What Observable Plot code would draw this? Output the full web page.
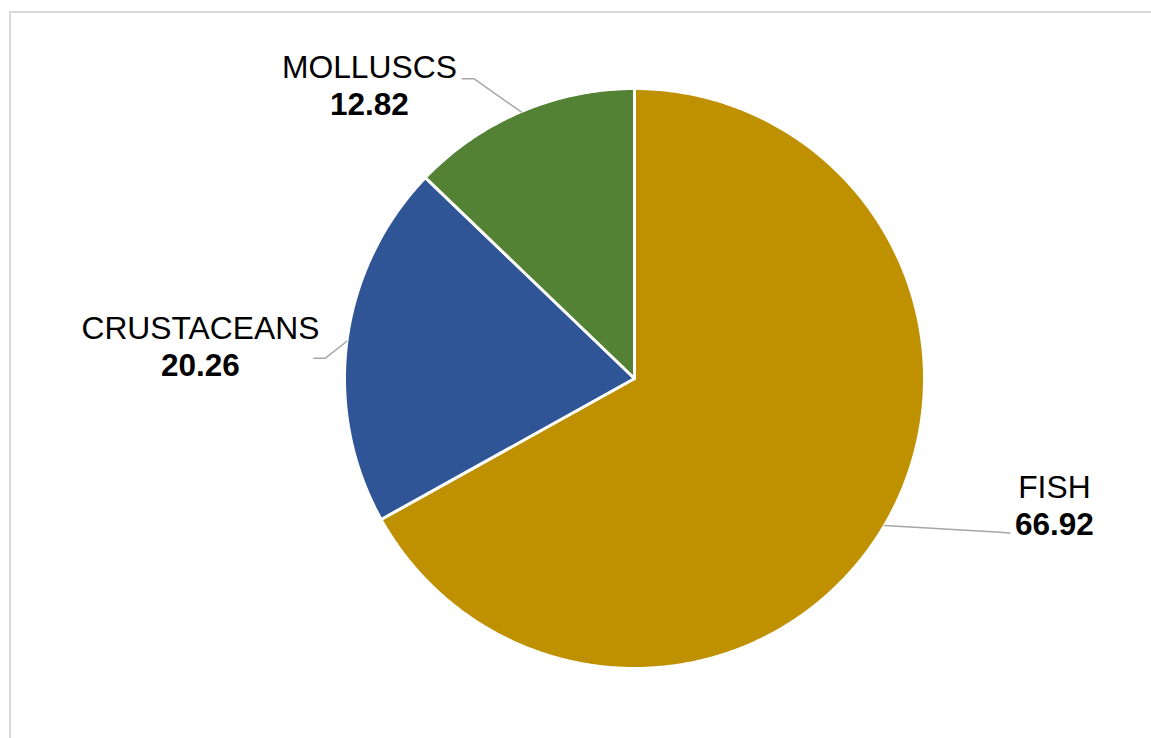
<!DOCTYPE html>
<html>
<head>
<meta charset="utf-8">
<script src="https://cdn.jsdelivr.net/npm/d3@7"></script>
<script src="https://cdn.jsdelivr.net/npm/@observablehq/plot@0.6"></script>
<style>
  html, body { margin: 0; padding: 0; background: #fff; }
  #wrap { position: relative; width: 1151px; height: 738px; overflow: hidden; }
  #frame { position: absolute; left: 9px; top: 11px; width: 1200px; height: 800px;
           border-top: 2px solid #d9d9d9; border-left: 2px solid #d9d9d9; }
  #chart { position: absolute; left: 0; top: 0; }
</style>
</head>
<body>
<div id="wrap"><div id="frame"></div><div id="chart"></div></div>
<script>
// ---- data ----
const categories = ["FISH", "CRUSTACEANS", "MOLLUSCS"];
const values = [66.92, 20.26, 12.82];
const valueLabels = ["66.92", "20.26", "12.82"];

// ---- layout (label anchors in pie-radius units, leader elbows) ----
const labelAnchor = {
  FISH: [1.448, -0.538],
  CRUSTACEANS: [-1.497, 0.007],
  MOLLUSCS: [-0.914, 0.907]
};
const leaderPts = {
  FISH: [[1.26, -0.53], [1.294, -0.533]],
  CRUSTACEANS: [[-1.066, 0.070], [-1.106, 0.070]],
  MOLLUSCS: [[-0.554, 1.034], [-0.594, 1.034]]
};

const table = categories.map((c, i) => ({cat: c, value: values[i], label: valueLabels[i]}));
const arcs = d3.pie().sort(null).value(d => d.value)(table);

// slice polygons
const slicePts = [];
arcs.forEach(a => {
  const c = a.data.cat;
  slicePts.push({cat: c, x: 0, y: 0});
  const n = Math.max(2, Math.ceil((a.endAngle - a.startAngle) / (Math.PI / 360)));
  for (let k = 0; k <= n; k++) {
    const t = a.startAngle + (a.endAngle - a.startAngle) * k / n;
    slicePts.push({cat: c, x: Math.sin(t), y: Math.cos(t)});
  }
});

// leader lines
const leaders = [];
arcs.forEach(a => {
  const c = a.data.cat;
  const m = (a.startAngle + a.endAngle) / 2;
  leaders.push({cat: c, x: Math.sin(m), y: Math.cos(m)});
  leaderPts[c].forEach(p => leaders.push({cat: c, x: p[0], y: p[1]}));
});

const labels = table.map(d => ({...d, x: labelAnchor[d.cat][0], y: labelAnchor[d.cat][1]}));

const font = "Liberation Sans, Arial, Helvetica, sans-serif";

const chart = Plot.plot({
  width: 1151,
  height: 738,
  marginLeft: 344,
  marginRight: 227,
  marginTop: 88,
  marginBottom: 70,
  x: {domain: [-1, 1], axis: null},
  y: {domain: [-1, 1], axis: null},
  color: {domain: categories, range: ["#BF9000", "#2F5597", "#548235"]},
  style: {fontFamily: font, background: "transparent", overflow: "visible"},
  marks: [
    Plot.line(slicePts, {x: "x", y: "y", z: "cat", fill: "cat", stroke: "white",
      strokeWidth: 3, strokeLinejoin: "round", curve: "linear-closed"}),
    Plot.line(leaders, {x: "x", y: "y", z: "cat", stroke: "#a6a6a6", strokeWidth: 1.5}),
    Plot.text(labels, {x: "x", y: "y", text: "cat", dy: -37, fontSize: 31.8,
      lineAnchor: "bottom", textAnchor: "middle", fill: "black"}),
    Plot.text(labels, {x: "x", y: "y", text: "label", fontSize: 31.5, fontWeight: "bold",
      lineAnchor: "bottom", textAnchor: "middle", fill: "black"})
  ]
});
document.getElementById("chart").appendChild(chart);
</script>
</body>
</html>
